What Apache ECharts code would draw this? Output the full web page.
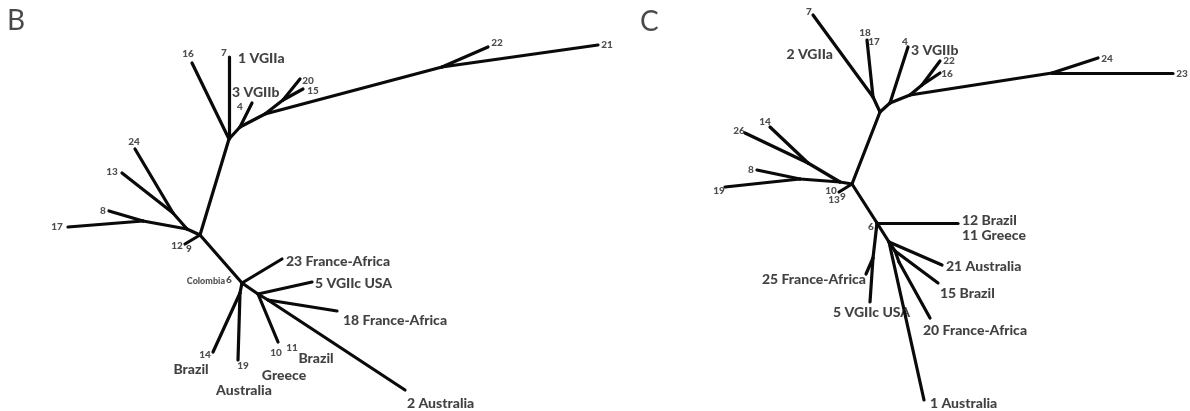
<!DOCTYPE html>
<html>
<head>
<meta charset="utf-8">
<script src="https://cdn.jsdelivr.net/npm/echarts@6/dist/echarts.min.js"></script>
<style>
  html, body { margin: 0; padding: 0; background: #fff; }
  #chart { width: 1190px; height: 411px; }
</style>
</head>
<body>
<div id="chart"></div>
<script>
// tree nodes (panel B then panel C), plotted in page units
const nodeNames = [
  'Ba', 'Bb', 'Bc', 'Bd', 'Be', 'B16', 'B7', 'B4', 'B20', 'B15', 'B22', 'B21',
  'Bf', 'Bg', 'Bh', 'Bi', 'B24', 'B13', 'B8', 'B17', 'B12',
  'Bj', 'B23', 'Bk', 'B14', 'B19', 'Bl', 'B5', 'Bm', 'B18', 'B2', 'B10',
  'Ca', 'Cg', 'C7', 'C18', 'Cb', 'C4', 'Cc', 'Cd', 'C22', 'C16', 'Ce', 'C24', 'C23',
  'Cf', 'Ch', 'Ci', 'C14', 'C26', 'Cj', 'C8', 'C19', 'C10',
  'Ck', 'C12', 'Cl', 'C25', 'C5', 'Cm', 'C21', 'Cn', 'C15', 'Co', 'C20', 'C1'
]
const nodeX = [
  229, 240, 265, 283, 442, 192, 229, 252, 300, 303, 488, 598,
  200, 187, 173, 143, 135, 122, 109, 68, 185,
  242, 282, 240, 213, 238, 258, 312, 268, 337, 405, 278,
  880, 873, 813, 867, 890, 908, 910, 922, 940, 940, 1052, 1098, 1173,
  852, 840, 808, 770, 745, 800, 757, 725, 839,
  877, 958, 873, 866, 870, 889, 942, 895, 938, 899, 930, 924
]
const nodeY = [
  139, 127, 114, 100, 67, 63, 57, 103, 79, 89, 47, 45,
  235, 229, 213, 221, 149, 173, 211, 227, 244,
  283, 259, 293, 352, 360, 294, 282, 300, 311, 390, 342,
  112, 97, 15, 40, 103, 47, 95, 85, 61, 73, 73, 58, 73,
  184, 182, 163, 127, 133, 179, 170, 187, 192,
  223, 223, 258, 274, 302, 242, 265, 251, 283, 262, 318, 400
]
// branches
const edgeFrom = [
  'Ba', 'Ba', 'Ba', 'Bb', 'Bb', 'Bc', 'Bd', 'Bd', 'Bc', 'Be', 'Be',
  'Ba', 'Bf', 'Bg', 'Bh', 'Bh', 'Bg', 'Bi', 'Bi', 'Bf',
  'Bf', 'Bj', 'Bj', 'Bk', 'Bk', 'Bj', 'Bl', 'Bl', 'Bm', 'Bm', 'Bl',
  'Ca', 'Cg', 'Cg', 'Ca', 'Cb', 'Cb', 'Cc', 'Cd', 'Cd', 'Cc', 'Ce', 'Ce',
  'Ca', 'Cf', 'Ch', 'Ci', 'Ci', 'Ch', 'Cj', 'Cj', 'Cf',
  'Cf', 'Ck', 'Ck', 'Cl', 'Cl', 'Ck', 'Cm', 'Cm', 'Cn', 'Cn', 'Co', 'Cm'
]
const edgeTo = [
  'B16', 'B7', 'Bb', 'B4', 'Bc', 'Bd', 'B20', 'B15', 'Be', 'B22', 'B21',
  'Bf', 'Bg', 'Bh', 'B24', 'B13', 'Bi', 'B8', 'B17', 'B12',
  'Bj', 'B23', 'Bk', 'B14', 'B19', 'Bl', 'B5', 'Bm', 'B18', 'B2', 'B10',
  'Cg', 'C7', 'C18', 'Cb', 'C4', 'Cc', 'Cd', 'C22', 'C16', 'Ce', 'C24', 'C23',
  'Cf', 'Ch', 'Ci', 'C14', 'C26', 'Cj', 'C8', 'C19', 'C10',
  'Ck', 'C12', 'Cl', 'C25', 'C5', 'Cm', 'C21', 'Cn', 'C15', 'Co', 'C20', 'C1'
]

// small isolate numbers (centred)
const tipText = [
  '16', '7', '4', '20', '15', '22', '21', '24', '13', '8', '17', '12', '9', '6', '14', '19', '10', '11',
  '7', '18', '17', '4', '22', '16', '24', '23', '14', '26', '8', '19', '10', '13', '9', '6'
]
const tipX = [
  188, 224, 240, 308, 313, 497, 607, 134, 112, 103, 57, 177, 189, 229, 205, 243, 276, 292,
  809, 865, 874, 905, 949, 947, 1107, 1182, 765, 739, 751, 719, 831, 834, 843, 871
]
const tipY = [
  54, 53, 107, 81, 91, 43, 45, 142, 172, 211, 227, 246, 249, 280, 355, 366, 353, 348,
  12, 33, 42, 42, 61, 74, 59, 74, 122, 131, 170, 191, 191, 200, 197, 227
]

// clade / origin labels, left-aligned at their anchor
const leftText = [
  '1 VGIIa', '3 VGIIb', '23 France-Africa', '5 VGIIc USA', '18 France-Africa', '2 Australia',
  '3 VGIIb', '12 Brazil', '11 Greece', '21 Australia', '15 Brazil', '20 France-Africa', '1 Australia', '5 VGIIc USA'
]
const leftX = [238, 232, 286, 315, 343, 407, 911, 962, 962, 946, 940, 923, 930, 833]
const leftY = [58, 92, 261, 283, 320, 403, 50, 220, 235, 266, 293, 330, 403, 312]

// labels centred under a tip
const centerText = ['Brazil', 'Australia', 'Greece', 'Brazil']
const centerX = [191, 244, 284, 316]
const centerY = [369, 390, 375, 358]

// labels ending at their anchor
const rightText = ['2 VGIIa', '25 France-Africa']
const rightX = [833, 866]
const rightY = [54, 279]

const panelText = ['B', 'C']
const panelX = [7, 640]
const panelY = [21, 22]

const pos = {}
nodeNames.forEach((n, i) => { pos[n] = [nodeX[i], nodeY[i]] })
const edges = edgeFrom.map((f, i) => ({ coords: [pos[f], pos[edgeTo[i]]] }))

const pts = (t, xs, ys) => t.map((s, i) => ({ name: s, value: [xs[i], ys[i]] }))

const textSeries = (data, align, size, weight, color) => ({
  type: 'scatter',
  symbolSize: 0,
  silent: true,
  data: data,
  label: {
    show: true,
    position: [0, 0],
    align: align,
    verticalAlign: 'middle',
    formatter: '{b}',
    color: color || '#111',
    fontFamily: 'Lato',
    fontSize: size,
    fontWeight: weight
  },
  z: 5
})

const chart = echarts.init(document.getElementById('chart'), null, { renderer: 'canvas' })
chart.setOption({
  animation: false,
  backgroundColor: '#fff',
  grid: { left: 0, right: 0, top: 0, bottom: 0 },
  xAxis: { type: 'value', min: 0, max: 1190, show: false },
  yAxis: { type: 'value', min: 0, max: 411, inverse: true, show: false },
  series: [
    {
      type: 'lines',
      coordinateSystem: 'cartesian2d',
      silent: true,
      lineStyle: { color: '#0a0a0a', width: 3.2, opacity: 1, cap: 'round' },
      data: edges
    },
    textSeries(pts(tipText, tipX, tipY), 'center', 10, 900, '#222'),
    textSeries(pts(leftText, leftX, leftY), 'left', 14, 900),
    textSeries(pts(centerText, centerX, centerY), 'center', 14, 900),
    textSeries(pts(rightText, rightX, rightY), 'right', 14, 900),
    textSeries([{ name: 'Colombia', value: [225, 281] }], 'right', 9, 900, '#222'),
    textSeries(pts(panelText, panelX, panelY), 'left', 28, 'normal', '#1a1a1a')
  ]
})
</script>
</body>
</html>
